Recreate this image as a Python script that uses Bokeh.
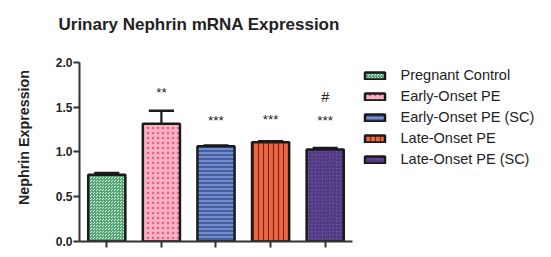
from bokeh.plotting import figure
from bokeh.models import (ColumnDataSource, Range1d, FixedTicker, Legend, LegendItem, Title)
from bokeh.embed import file_html
from bokeh.resources import INLINE

# ---- data ----
groups = ["Pregnant Control", "Early-Onset PE", "Early-Onset PE (SC)", "Late-Onset PE", "Late-Onset PE (SC)"]
means = [0.745, 1.315, 1.065, 1.11, 1.028]
sem = [0.02, 0.145, 0.008, 0.01, 0.017]
sig_text = ["", "**", "***", "***", "***"]
sig_y = [0, 1.67, 1.35, 1.365, 1.35]
hash_text = ["", "", "", "", "#"]
hash_y = [0, 0, 0, 0, 1.61]
y_ticks = [0.0, 0.5, 1.0, 1.5, 2.0]

fills = ["#d8eedf", "#f7b3c4", "#6f8fd2", "#ee6744", "#7b60b4"]
hatch_colors = ["#55a677", "#ec5a82", "#2f3f78", "#7a2614", "#3a2668"]
hatches = ["criss_cross", "dot", "horizontal_line", "vertical_line", "right_diagonal_line"]
hatch_scales = [3.0, 5.0, 4.0, 5.0, 3.5]
hatch_weights = [1.0, 3.0, 1.2, 1.2, 1.0]

FONT = "Liberation Sans"

# frame spans to the right edge so the legend is not clipped; axes bounded to data part
p = figure(width=551, height=257, output_backend="svg", toolbar_location=None,
           x_range=Range1d(0.5, 9.145), y_range=Range1d(0, 2.324),
           min_border_left=79, min_border_right=0, min_border_top=33, min_border_bottom=16)
p.outline_line_color = None
p.grid.visible = False
p.background_fill_color = "white"
p.border_fill_color = "white"

xs = [i + 1 for i in range(len(groups))]

# error bars
for i in range(len(groups)):
    src = ColumnDataSource(dict(x=[xs[i]], y0=[means[i]], y1=[means[i] + sem[i]],
                                xl=[xs[i] - 0.23], xr=[xs[i] + 0.23]))
    p.segment(x0="x", y0="y0", x1="x", y1="y1", source=src, line_color="#1a1a1a", line_width=2.2)
    p.segment(x0="xl", y0="y1", x1="xr", y1="y1", source=src, line_color="#1a1a1a", line_width=2.5)

items = []
for i, g in enumerate(groups):
    src = ColumnDataSource(dict(x=[xs[i]], top=[means[i]]))
    r = p.vbar(x="x", top="top", bottom=0, width=0.68, source=src,
               fill_color=fills[i], line_color="#1a1a1a", line_width=2.5,
               hatch_pattern=hatches[i], hatch_color=hatch_colors[i],
               hatch_scale=hatch_scales[i], hatch_weight=hatch_weights[i])
    items.append(LegendItem(label=g, renderers=[r]))

# significance marks
sig_src = ColumnDataSource(dict(x=xs, y=sig_y, t=sig_text))
p.text(x="x", y="y", text="t", source=sig_src, text_align="center", text_baseline="middle",
       text_font_size="13.5px", text_color="#222222", text_font={"value": FONT})
hash_src = ColumnDataSource(dict(x=xs, y=hash_y, t=hash_text))
p.text(x="x", y="y", text="t", source=hash_src, text_align="center", text_baseline="middle",
       text_font_size="14.5px", text_color="#222222", text_font={"value": FONT})

# axes
for ax in (p.xaxis[0], p.yaxis[0]):
    ax.axis_line_width = 2
    ax.axis_line_color = "#333333"
    ax.major_tick_line_width = 2
    ax.major_tick_line_color = "#333333"
    ax.minor_tick_line_color = None
    ax.major_tick_in = 0
    ax.major_tick_out = 6

p.xaxis.bounds = (0.5, 5.5)
p.xaxis.ticker = FixedTicker(ticks=xs)
p.xaxis.major_label_text_font_size = "0px"
p.xaxis.major_label_text_color = None

p.yaxis.bounds = (0, 2.0)
p.yaxis.ticker = FixedTicker(ticks=y_ticks)
p.yaxis.formatter.use_scientific = False
p.yaxis.major_label_text_font = FONT
p.yaxis.major_label_text_font_size = "12px"
p.yaxis.major_label_text_font_style = "bold"
p.yaxis.major_label_text_color = "#222222"
p.yaxis.major_label_standoff = 1
p.yaxis.major_label_overrides = {0: "0.0", 0.5: "0.5", 1: "1.0", 1.5: "1.5", 2: "2.0"}
p.yaxis.axis_label = "Nephrin Expression"
p.yaxis.axis_label_text_font = FONT
p.yaxis.axis_label_text_font_size = "14.3px"
p.yaxis.axis_label_text_font_style = "bold"
p.yaxis.axis_label_text_color = "#222222"
p.yaxis.axis_label_standoff = 21

# title
p.title = Title(text="Urinary Nephrin mRNA Expression", align="left", offset=-21, standoff=0,
                vertical_align="bottom",
                text_font=FONT, text_font_size="17px", text_font_style="bold", text_color="#222222")

legend = Legend(items=items, location=(282.5, 72), orientation="vertical",
                glyph_width=25, glyph_height=9, label_height=20, spacing=1,
                label_standoff=14, padding=4, margin=0,
                label_text_font=FONT, label_text_font_size="14.5px", label_text_color="#222222",
                border_line_color=None, background_fill_alpha=0)
p.add_layout(legend)

open("out.html", "w").write(file_html(p, INLINE))
